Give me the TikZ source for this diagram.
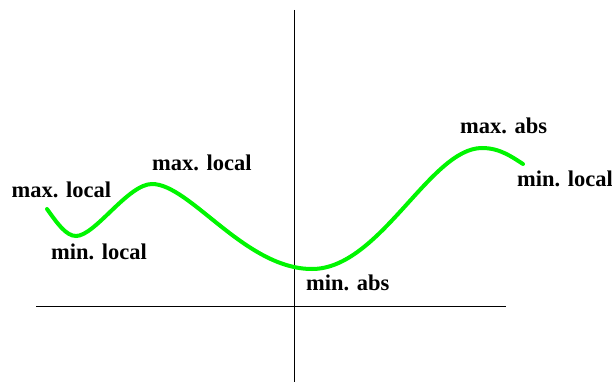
\documentclass[tikz,border=0pt]{standalone}
\usepackage{fontspec}
\setmainfont{Liberation Serif}
\definecolor{curvegreen}{RGB}{0,245,0}
\tikzset{
  lbl/.style={anchor=base west, inner sep=0pt, font=\fontsize{22.5}{26}\selectfont\bfseries},
  axis/.style={line width=1pt, black},
  curveline/.style={line width=4pt, curvegreen, line cap=round}
}
\begin{document}
\begin{tikzpicture}[x=1pt,y=-1pt]
\useasboundingbox (0,0) rectangle (612,382);
% axes
\coordinate (ytop) at (294,10);
\coordinate (ybot) at (294,382);
\coordinate (xl) at (36,306.7);
\coordinate (xr) at (506,306.7);
\draw[axis] (ytop) -- (ybot);
\draw[axis] (xl) -- (xr);
% curve
\coordinate (c0) at (47,209);
\coordinate (c1) at (76,236);
\coordinate (c2) at (152,184);
\coordinate (c3) at (312,269);
\coordinate (c4) at (482,148);
\coordinate (c5) at (523,164);
\draw[curveline] (c0) .. controls (57,223) and (66,236) .. (c1)
  .. controls (95,236) and (128,184) .. (c2)
  .. controls (190,184) and (245,269) .. (c3)
  .. controls (380,269) and (430,148) .. (c4)
  .. controls (500,148) and (512,157) .. (c5);
% labels
\node[lbl] (l1) at (11.5,197) {max. local};
\node[lbl] (l2) at (51,259) {min. local};
\node[lbl] (l3) at (152,170) {max. local};
\node[lbl] (l4) at (306,290) {min. abs};
\node[lbl] (l5) at (460,134) {max. abs};
\node[lbl] (l6) at (517,186) {min. local};
\end{tikzpicture}
\end{document}
